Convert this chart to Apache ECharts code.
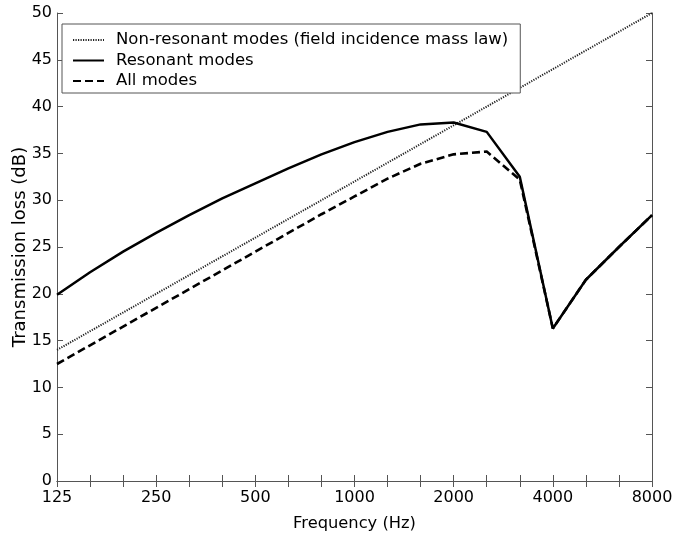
<!DOCTYPE html>
<html>
<head>
<meta charset="utf-8">
<script src="https://cdn.jsdelivr.net/npm/echarts@6/dist/echarts.min.js"></script>
<style>html,body{margin:0;padding:0;background:#fff}#c{width:675px;height:540px}</style>
</head>
<body>
<div id="c"></div>
<script>
// Third-octave band centre frequencies (Hz)
const categories = ['125','160','200','250','315','400','500','630','800','1000','1250','1600','2000','2500','3150','4000','5000','6300','8000'];
const octaveLabels = ['125','250','500','1000','2000','4000','8000'];
// Transmission loss (dB)
const massLaw   = [14,16,18,20,22,24,26,28,30,32,34,36,38,40,42,44,46,48,50];
const resonant  = [19.9,22.3,24.5,26.5,28.4,30.2,31.8,33.4,34.9,36.2,37.3,38.1,38.3,37.3,32.5,16.3,21.5,25.0,28.4];
const allModes  = [12.5,14.5,16.5,18.5,20.5,22.5,24.5,26.5,28.5,30.4,32.3,33.9,34.9,35.2,32.2,16.3,21.5,25.0,28.4];
const seriesNames = ['Non-resonant modes (field incidence mass law)','Resonant modes','All modes'];

const FONT = '"DejaVu Sans", Arial, sans-serif';
const AX = '#555';
const chart = echarts.init(document.getElementById('c'), null, {renderer:'canvas'});
chart.setOption({
  animation:false,
  backgroundColor:'#fff',
  textStyle:{fontFamily:FONT},
  grid:{left:57,right:23,top:13,bottom:59,containLabel:false,outerBoundsMode:'none'},
  legend:{
    left:62, top:24, orient:'vertical',
    data:seriesNames,
    itemWidth:31, itemHeight:14, itemGap:2.5,
    padding:[7,12,3,10],
    borderColor:AX, borderWidth:1, backgroundColor:'#fff',
    itemStyle:{opacity:0},
    textStyle:{fontSize:16.5,color:'#000',fontFamily:FONT,padding:[0,0,0,7],lineHeight:18},
    selectedMode:false
  },
  xAxis:[{
    type:'category', data:categories, boundaryGap:false,
    name:'Frequency (Hz)', nameLocation:'middle', nameGap:35, nameMoveOverlap:false,
    nameTextStyle:{fontSize:16.3,color:'#000',fontFamily:FONT},
    axisLine:{show:true,lineStyle:{color:AX,width:1}},
    axisTick:{show:true,inside:true,length:6,interval:0,lineStyle:{color:AX}},
    axisLabel:{interval:2,fontSize:16,color:'#000',margin:9,fontFamily:FONT,
      formatter:function(v){return octaveLabels.indexOf(v)>=0?v:'';}},
    splitLine:{show:false}
  },{
    type:'category', data:categories, boundaryGap:false, position:'top',
    axisLine:{show:true,lineStyle:{color:AX,width:1}},
    axisTick:{show:true,inside:true,length:6,interval:0,lineStyle:{color:AX}},
    axisLabel:{show:false}, splitLine:{show:false}
  }],
  yAxis:[{
    type:'value', min:0, max:50, interval:5,
    name:'Transmission loss (dB)', nameLocation:'middle', nameGap:28, nameRotate:90, nameMoveOverlap:false,
    nameTextStyle:{fontSize:18,color:'#000',fontFamily:FONT},
    axisLine:{show:true,lineStyle:{color:AX,width:1}},
    axisTick:{show:true,inside:true,length:6,lineStyle:{color:AX}},
    axisLabel:{fontSize:16,color:'#000',margin:5,fontFamily:FONT},
    splitLine:{show:false}
  },{
    type:'value', min:0, max:50, interval:5, position:'right',
    axisLine:{show:true,lineStyle:{color:AX,width:1}},
    axisTick:{show:true,inside:true,length:6,lineStyle:{color:AX}},
    axisLabel:{show:false}, splitLine:{show:false}
  }],
  series:[
    {name:seriesNames[0], type:'line', data:massLaw, symbol:'none',
      itemStyle:{color:'#222'},
      lineStyle:{color:'#222',width:2,type:[1.2,1.3]}, z:2},
    {name:seriesNames[1], type:'line', data:resonant, symbol:'none',
      itemStyle:{color:'#000'},
      lineStyle:{color:'#000',width:2.5,type:'solid'}, z:3},
    {name:seriesNames[2], type:'line', data:allModes, symbol:'none',
      itemStyle:{color:'#000'},
      lineStyle:{color:'#000',width:2.6,type:[8,4]}, z:4}
  ]
});
</script>
</body>
</html>
